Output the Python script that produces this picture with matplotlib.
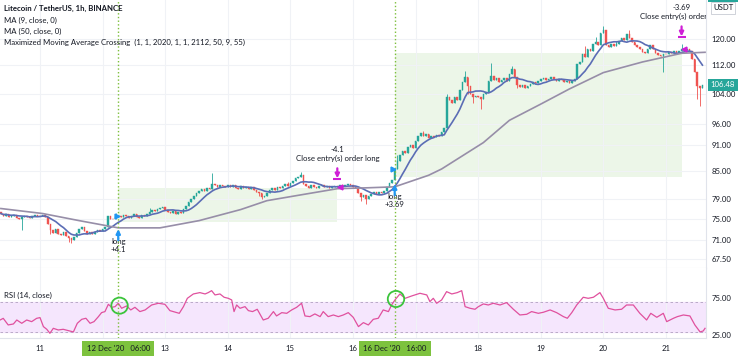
import numpy as np
import pandas as pd
import matplotlib
matplotlib.use('Agg')
import matplotlib.pyplot as plt
from matplotlib.patches import Rectangle, Ellipse
from matplotlib.ticker import NullLocator
from matplotlib.transforms import offset_copy

plt.rcParams['font.family'] = ['Lato', 'DejaVu Sans']

# LTC/USDT 1h closes, 10 Dec 09:00 .. 21 Dec 14:00
close_10 = [76.0, 75.6, 75.9, 75.3, 75.5, 75.8, 75.2, 74.9, 75.3, 75.6, 75.4, 75.1, 75.5, 75.7, 75.6]
close_11 = [75.5, 75.7, 75.3, 74.0, 72.8, 72.3, 72.9, 72.0, 71.8, 72.4, 71.6, 71.2,
            70.9, 71.5, 72.3, 72.9, 73.3, 72.6, 72.1, 72.4, 72.0, 72.5, 72.8, 72.6]
close_12 = [73.0, 73.4, 75.6, 75.0, 74.9, 75.4, 75.6, 75.3, 75.8, 75.5, 75.1, 75.6,
            75.9, 75.4, 75.2, 75.7, 75.6, 76.0, 76.4, 76.8, 76.5, 76.9, 77.1, 77.3]
close_13 = [76.8, 76.4, 76.2, 76.5, 76.0, 76.3, 76.2, 76.9, 77.6, 78.3, 79.0, 79.6,
            80.2, 80.6, 81.0, 80.7, 81.3, 81.0, 82.0, 81.8, 81.5, 81.9, 81.6, 81.4]
close_14 = [81.8, 81.4, 81.9, 81.3, 81.0, 81.6, 81.2, 81.5, 81.0, 81.4, 80.8, 80.5,
            80.1, 79.4, 79.6, 80.1, 80.8, 81.2, 80.9, 81.5, 81.2, 81.6, 82.0, 81.7]
close_15 = [82.3, 82.8, 83.3, 83.6, 84.0, 82.0, 81.6, 81.3, 81.8, 81.5, 81.2, 81.6,
            81.9, 81.4, 81.7, 81.3, 81.5, 81.6, 81.4, 81.8, 81.6, 81.9, 82.1, 81.8]
close_16 = [81.5, 81.2, 80.1, 79.3, 79.8, 78.9, 79.5, 79.9, 80.3, 80.0, 80.4, 80.2,
            80.6, 81.5, 82.3, 83.0, 85.5, 87.3, 88.5, 89.6, 89.0, 90.4, 91.0, 90.3]
close_17 = [92.0, 93.2, 93.8, 93.0, 93.5, 92.6, 93.2, 92.8, 93.4, 93.0, 94.0, 95.0,
            103.0, 102.2, 101.5, 103.0, 102.4, 105.0, 107.2, 108.5, 106.0, 103.8, 103.0, 103.5]
close_18 = [103.2, 102.5, 103.8, 104.5, 107.5, 108.8, 107.8, 108.3, 107.2, 107.9, 108.4, 107.6,
            109.5, 110.8, 108.5, 106.5, 105.8, 106.3, 105.5, 106.2, 106.8, 107.3, 106.9, 107.6]
close_19 = [108.0, 108.4, 107.7, 108.2, 108.6, 108.0, 107.5, 108.1, 107.7, 107.2, 107.6, 107.0,
            107.5, 108.2, 112.5, 113.0, 115.5, 114.6, 117.0, 116.3, 118.5, 119.0, 118.2, 121.8]
close_20 = [123.0, 118.0, 117.6, 118.3, 117.8, 118.5, 119.5, 120.3, 119.6, 121.5, 120.4, 119.0,
            118.0, 117.5, 116.8, 116.0, 115.6, 117.0, 118.0, 116.9, 115.8, 115.2, 114.8, 115.5]
close_21 = [115.3, 116.0, 115.6, 116.2, 115.8, 116.3, 117.0, 116.5, 116.8, 116.4, 114.0, 110.0,
            106.0, 105.5, 106.48]
first_open = 76.3

# visible wicks (hour -> price)
wick_high = {29: 76.2, 42: 77.2, 66: 84.5, 95: 82.6, 100: 84.8, 137: 88.5, 147: 94.4,
             156: 104.0, 163: 110.5, 173: 112.6, 181: 111.8, 209: 117.8, 213: 120.5,
             216: 124.2, 221: 119.5, 226: 122.8, 246: 118.3}
wick_low = {-7: 72.7, 4: 72.0, 11: 70.6, 12: 70.4, 84: 79.6, 85: 79.0, 123: 78.6, 125: 78.0,
            164: 104.0, 166: 101.5, 169: 100.0, 183: 105.5, 239: 110.0, 252: 102.5, 253: 100.8}

# MA(50)
ma50_hours = [-15, 1, 15, 30, 46, 61, 77, 87, 100, 114, 126, 136, 149, 154, 170, 180,
              192, 203, 216, 231, 246, 255]
ma50_vals = [77.0, 76.0, 74.6, 73.2, 73.2, 74.6, 76.8, 78.6, 79.8, 81.1, 81.3, 81.5, 84.0,
             85.4, 91.5, 97.0, 101.2, 105.3, 109.9, 113.0, 115.6, 115.9]

# RSI(14)
rsi_hours = [-15.3, -14.1, -12.2, -10.2, -8.9, -7.0, -5.1, -3.2, -1.3, 0, 1.3, 2.6, 3.8, 5.1,
             7.0, 8.9, 10.9, 12.8, 14.3, 16.0, 17.6, 19.2, 20.7, 22.4, 23.6, 24.9, 26.2,
             27.5, 28.8, 30.0, 31.3, 33.2, 34.8, 36.4, 38.3, 40.3, 42.8, 45.4, 47.9, 49.8,
             51.1, 53.4, 55.0, 56.5, 58.8, 61.3, 63.3, 64.5, 65.8, 67.1, 69.0, 70.6, 72.2,
             73.5, 74.4, 75.4, 76.7, 78.6, 79.9, 81.5, 83.3, 85.6, 87.5, 89.5, 90.7, 92.7,
             94.6, 96.5, 98.4, 100.3, 101.6, 103.5, 105.4, 107.4, 108.6, 110.5, 112.5, 114.4,
             116.3, 118.2, 120.1, 122.1, 124.0, 125.9, 127.8, 129.7, 131.6, 133.6, 134.8,
             136.1, 138.0, 140.0, 142.5, 145.7, 148.3, 149.5, 150.8, 152.1, 154.0, 155.9,
             157.9, 160.0, 161.7, 163.0, 164.9, 166.8, 168.1, 170.0, 171.9, 173.8, 176.4,
             178.9, 181.5, 184.0, 186.6, 188.5, 191.1, 193.0, 195.6, 198.1, 200.7, 202.2,
             203.9, 205.8, 208.3, 210.2, 212.2, 214.7, 216.0, 217.9, 220.5, 223.0, 224.9,
             227.5, 230.0, 232.6, 234.2, 236.5, 239.0, 240.3, 242.9, 244.4, 246.7, 249.2,
             251.1, 253.1, 254.3, 255.0]
rsi_vals = [45.6, 47.8, 39.0, 40.3, 45.6, 41.2, 45.6, 43.4, 47.8, 48.8, 36.8, 33.2, 27.9, 34.5,
            32.3, 33.2, 31.4, 29.7, 41.2, 46.5, 47.9, 41.2, 43.4, 50.1, 55.4, 56.8, 66.5,
            62.5, 63.4, 67.9, 61.2, 64.3, 59.0, 62.5, 56.8, 59.0, 65.6, 67.9, 66.5, 58.1,
            56.8, 54.5, 63.4, 74.5, 80.3, 82.1, 80.3, 82.1, 84.7, 79.0, 80.3, 75.9, 74.5,
            72.3, 56.8, 65.6, 61.2, 63.4, 58.1, 56.8, 59.9, 45.6, 47.9, 56.8, 51.0, 55.4,
            54.5, 59.0, 62.5, 67.9, 51.0, 50.1, 53.7, 50.1, 56.8, 50.1, 52.3, 50.1,
            52.3, 55.4, 49.2, 36.8, 42.1, 39.0, 46.5, 47.9, 59.0, 56.8, 65.6,
            72.3, 80.3, 74.5, 77.6, 81.2, 79.0, 70.1, 74.5, 67.9, 72.3, 83.4,
            80.3, 82.1, 84.7, 63.4, 61.2, 59.9, 63.4, 67.0, 65.6, 67.9, 65.6,
            68.8, 59.9, 52.3, 53.2, 56.8, 54.5, 55.9, 59.0, 55.4, 50.1, 47.9,
            55.4, 65.6, 75.9, 74.5, 75.9, 82.1, 74.5, 61.2, 59.0, 59.9, 65.6,
            65.6, 54.5, 45.6, 54.5, 49.2, 54.5, 43.4, 47.9, 50.1, 52.3, 51.0,
            39.0, 29.7, 31.0, 34.5]

# strategy trades
entry_hours = [30, 136]
exit_hours = [114, 246]
trade_pnl = ['4.1', '3.69']
box_lo = [74.3, 83.6]
box_hi = [81.2, 115.8]
signal_rsi = [64.7, 73.6]
entry_labels = ["12 Dec '20   06:00", "16 Dec '20   16:00"]

# day labels; 12 and 17 sit under the crosshair date boxes
day_labels = ['11', '', '13', '14', '15', '16', '', '18', '19', '20', '21']
price_ticks = [67.5, 71, 75, 79, 85, 91, 96, 104, 112, 120]
last_price = 106.48

closes = np.array(close_10 + close_11 + close_12 + close_13 + close_14 + close_15 +
                  close_16 + close_17 + close_18 + close_19 + close_20 + close_21)
hours = np.arange(-15, -15 + len(closes))
opens = np.concatenate([[first_open], closes[:-1]])
highs = np.maximum(opens, closes)
lows = np.minimum(opens, closes)
for h, v in wick_high.items():
    highs[h + 15] = max(highs[h + 15], v)
for h, v in wick_low.items():
    lows[h + 15] = min(lows[h + 15], v)
ma9 = pd.Series(closes).rolling(9, min_periods=1).mean()

UP, DOWN = '#26a69a', '#ef5350'
MAG, BLUE = '#cf1fd6', '#2196f3'
GRID = '#f0f2f6'
TXT = '#131722'
FS = 5.6

W, H = 740, 357
fig = plt.figure(figsize=(W / 100, H / 100), dpi=100)
fig.set_facecolor('w')
ax = fig.add_axes([0, 1 - 268 / H, 706 / W, 268 / H])
rx = fig.add_axes([0, 1 - 338 / H, 706 / W, 70 / H], sharex=ax)

def fx(px):
    return px / W

def fy(py):
    return 1 - py / H

def off(dy):
    return offset_copy(ax.transData, fig=fig, y=dy, units='points')

# ---- price pane
ax.set_yscale('log')
ax.set_xlim(-15.34, 255.37)
ax.set_ylim(65.9, 132.9)
day_hours = np.arange(0, 24 * len(day_labels), 24)
ax.set_xticks(day_hours)
ax.set_yticks(price_ticks)
ax.set_yticklabels(['%.2f' % p for p in price_ticks])
ax.yaxis.set_minor_locator(NullLocator())
ax.yaxis.tick_right()
ax.tick_params(axis='y', length=0, pad=4, labelsize=FS, colors=TXT)
ax.tick_params(axis='x', length=0, labelbottom=False)
ax.grid(color=GRID, lw=0.8, zorder=0)
for s in ['top', 'left']:
    ax.spines[s].set_visible(False)
ax.spines['right'].set_color('#e0e3eb')
ax.spines['bottom'].set_color('#e0e3eb')

for k in range(len(entry_hours)):
    e, x_ = entry_hours[k], exit_hours[k]
    ax.add_patch(Rectangle((e, box_lo[k]), x_ - e, box_hi[k] - box_lo[k],
                           fc='#ecf6e8', ec='none', zorder=0.5))

cols = np.where(closes >= opens, UP, DOWN)
ax.vlines(hours, lows, highs, colors=cols, lw=0.6, zorder=2)
ax.bar(hours, np.abs(closes - opens), bottom=np.minimum(opens, closes), width=0.6,
       color=cols, edgecolor=cols, lw=0.3, zorder=2)
ax.plot(hours, ma9, color='#5b6db5', lw=1.2, zorder=3)
ax.plot(ma50_hours, ma50_vals, color='#978ea8', lw=1.2, zorder=3)

for k in range(len(entry_hours)):
    e, x_ = entry_hours[k], exit_hours[k]
    # entry marks
    ax.annotate('', xy=(e, box_lo[k]), xytext=(0, -13), textcoords='offset points',
                arrowprops=dict(arrowstyle='-|>', color=BLUE, lw=1.6, mutation_scale=6,
                                shrinkA=0, shrinkB=5), zorder=5)
    ax.text(e, box_lo[k], 'long', transform=off(-13.7), ha='center', va='center',
            fontsize=FS, color=TXT)
    ax.text(e, box_lo[k], '+' + trade_pnl[k], transform=off(-20), ha='center', va='center',
            fontsize=FS, color=TXT)
    ax.plot(e - 0.6, closes[e + 15], marker='>', ms=3.5, color=BLUE, zorder=5)
    # exit marks
    hi = highs[x_ + 15]
    ax.annotate('', xy=(x_, hi), xytext=(0, 13), textcoords='offset points',
                arrowprops=dict(arrowstyle='-|>', color=MAG, lw=1.6, mutation_scale=6,
                                shrinkA=0, shrinkB=5.8), zorder=5)
    ax.plot([x_], [hi], marker='_', ms=6, mew=1.5, color=MAG, zorder=5, transform=off(5.6))
    ax.text(x_, hi, 'Close entry(s) order long', transform=off(20), ha='center', va='center',
            fontsize=FS, color=TXT, clip_on=True)
    ax.text(x_, hi, '-' + trade_pnl[k], transform=off(26.5), ha='center', va='center',
            fontsize=FS, color=TXT, clip_on=True)
    ax.plot(x_ + 1, closes[x_ + 15], marker='<', ms=3.5, color=MAG, zorder=5)

for e in entry_hours:
    ax.axvline(e, color='#7cbf3a', ls=':', lw=1, zorder=4)

# ---- RSI pane
rx.set_ylim(21.6, 114.9)
rx.axhspan(30, 70, color='#f5e6fd', zorder=0)
rx.axhline(70, color='#b0a0c0', ls='--', lw=0.6, dashes=(3, 3))
rx.axhline(30, color='#b0a0c0', ls='--', lw=0.6, dashes=(3, 3))
rx.plot(rsi_hours, rsi_vals, color='#e0519e', lw=0.9, zorder=3)
rx.set_xticks(day_hours)
rx.set_xticklabels(day_labels)
rx.set_yticks([25, 75])
rx.set_yticklabels(['25.00', '75.00'])
rx.yaxis.tick_right()
rx.tick_params(axis='y', length=0, pad=4, labelsize=FS, colors=TXT)
rx.tick_params(axis='x', length=0, pad=5, labelsize=FS, colors=TXT)
rx.grid(axis='x', color=GRID, lw=0.8, zorder=0)
for s in ['top', 'left']:
    rx.spines[s].set_visible(False)
rx.spines['right'].set_color('#e0e3eb')
rx.spines['bottom'].set_color('#e0e3eb')
for k, e in enumerate(entry_hours):
    rx.axvline(e, color='#7cbf3a', ls=':', lw=1, zorder=4)
    rx.add_patch(Ellipse((e + 0.5, signal_rsi[k]), 6.3, 21.5, fill=False,
                         ec='#3cc43c', lw=1.3, zorder=5))

# ---- texts
fig.text(fx(4), fy(8), 'Litecoin / TetherUS, 1h, BINANCE', fontsize=FS, fontweight='bold',
         color=TXT, va='center')
fig.text(fx(4), fy(20), 'MA (9, close, 0)', fontsize=FS, color=TXT, va='center')
fig.text(fx(4), fy(31), 'MA (50, close, 0)', fontsize=FS, color=TXT, va='center')
fig.text(fx(4), fy(42), 'Maximized Moving Average Crossing  (1, 1, 2020, 1, 1, 2112, 50, 9, 55)',
         fontsize=FS, color=TXT, va='center')
fig.text(fx(4), fy(295), 'RSI (14, close)', fontsize=FS, color=TXT, va='center')

for k, e in enumerate(entry_hours):
    xc = ax.transData.transform((e, 100))[0] / W
    fig.text(xc, fy(348.5), entry_labels[k], fontsize=FS, color=TXT, ha='center', va='center',
             bbox=dict(boxstyle='square,pad=0.55', fc='#7dc23e', ec='none'), zorder=10)

yl = ax.transData.transform((0, last_price))[1] / H
fig.text(fx(723), yl, '%.2f' % last_price, fontsize=FS, color='w', ha='center', va='center',
         bbox=dict(boxstyle='square,pad=0.3', fc=UP, ec='none'))
fig.text(fx(723), fy(8), 'USDT', fontsize=FS, color=TXT, ha='center', va='center',
         bbox=dict(boxstyle='square,pad=0.3', fc='w', ec='#c8cbd3', lw=0.6))
fig.patches.append(Rectangle((fx(708), fy(2)), fx(30), 2 / H, transform=fig.transFigure,
                             fc=UP, ec='none'))

plt.savefig('out.png', dpi=100)
